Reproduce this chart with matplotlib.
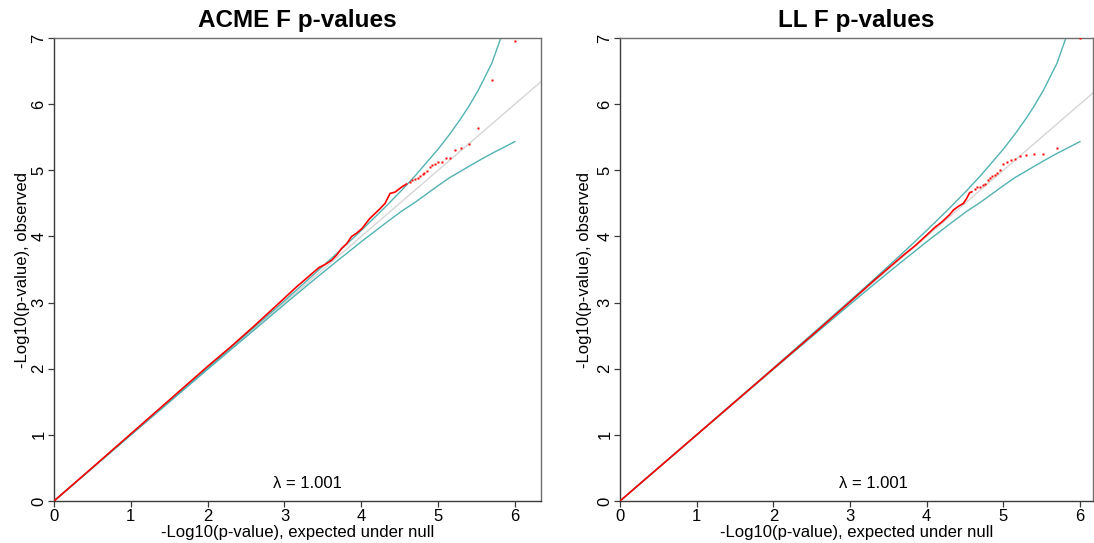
import matplotlib
matplotlib.use("Agg")
import matplotlib.pyplot as plt

plt.rcParams['font.family'] = ['Liberation Sans', 'DejaVu Sans']

# ---------------- data ----------------
titles = ["ACME F p-values", "LL F p-values"]
lambda_labels = ["\u03bb = 1.001", "\u03bb = 1.001"]
x_ticks = [0, 1, 2, 3, 4, 5, 6]
y_ticks = [0, 1, 2, 3, 4, 5, 6, 7]

# 95% confidence band of the expected order statistics
band_x = [0.0, 1.0, 2.0, 3.0, 3.301, 3.5, 3.699, 4.0, 4.301, 4.523, 4.699, 5.0, 5.155, 5.301, 5.398, 5.523, 5.699, 6.0]
band_upper = [0.0, 1.003, 2.009, 3.027, 3.340, 3.550, 3.761, 4.090, 4.431, 4.694, 4.913, 5.319, 5.551, 5.790, 5.963, 6.209, 6.616, 7.597]
band_lower = [0.0, 0.997, 1.991, 2.973, 3.264, 3.454, 3.641, 3.919, 4.188, 4.380, 4.514, 4.767, 4.892, 4.990, 5.057, 5.141, 5.254, 5.433]

# ACME panel: dense part of observed points
acme_dense_x = [0.0, 0.5, 1.0, 1.5, 2.0, 2.3, 2.6, 2.9, 3.16, 3.35, 3.45, 3.52, 3.615, 3.68, 3.745,
                3.81, 3.875, 3.94, 4.01, 4.11, 4.245, 4.31, 4.375, 4.44, 4.53, 4.60]
acme_dense_y = [0.0, 0.505, 1.015, 1.525, 2.035, 2.33, 2.64, 2.96, 3.24, 3.43, 3.53, 3.57, 3.64, 3.72, 3.82,
                3.89, 4.00, 4.05, 4.12, 4.27, 4.42, 4.50, 4.65, 4.67, 4.75, 4.80]
# ACME panel: top (sparse) observed points
acme_tail_x = [6.00, 5.70, 5.52, 5.40, 5.30, 5.22, 5.15, 5.10, 5.05, 5.00, 4.96, 4.92, 4.89, 4.85, 4.82, 4.80, 4.77, 4.74, 4.70, 4.66, 4.63]
acme_tail_y = [6.96, 6.37, 5.64, 5.40, 5.33, 5.30, 5.18, 5.18, 5.12, 5.12, 5.09, 5.08, 5.05, 4.99, 4.96, 4.94, 4.92, 4.89, 4.87, 4.85, 4.83]

# LL panel: dense part of observed points
ll_dense_x = [0.0, 0.5, 1.0, 1.5, 2.0, 2.5, 3.0, 3.3, 3.5, 3.7, 3.85, 4.0, 4.1, 4.2, 4.3, 4.35, 4.42, 4.48, 4.52, 4.56, 4.60]
ll_dense_y = [0.0, 0.50, 1.0, 1.5, 2.0, 2.5, 3.01, 3.32, 3.52, 3.72, 3.86, 4.02, 4.13, 4.22, 4.33, 4.40, 4.46, 4.50, 4.57, 4.66, 4.68]
# LL panel: top (sparse) observed points
ll_tail_x = [6.00, 5.70, 5.52, 5.40, 5.30, 5.22, 5.15, 5.10, 5.05, 5.00, 4.96, 4.92, 4.89, 4.85, 4.82, 4.80, 4.76, 4.73, 4.69, 4.66, 4.63]
ll_tail_y = [7.00, 5.33, 5.25, 5.24, 5.23, 5.22, 5.17, 5.15, 5.13, 5.09, 5.00, 4.96, 4.93, 4.91, 4.89, 4.86, 4.80, 4.78, 4.75, 4.74, 4.72]

panels = [
    (acme_dense_x, acme_dense_y, acme_tail_x, acme_tail_y),
    (ll_dense_x, ll_dense_y, ll_tail_x, ll_tail_y),
]

# ---------------- layout ----------------
W, H = 1094, 543
fig = plt.figure(figsize=(W / 100, H / 100), dpi=100)
# (left px, right px, top px, bottom px, xmax, ylabel centre px)
boxes = [(54, 541, 38, 501, 6.34, 23), (620, 1093, 38, 501, 6.17, 585)]

band_col = '#52B2B2'
spine_col = '#3A3A3A'
fs = 12

for k, (bx0, bx1, by0, by1, xmax, ylab_px) in enumerate(boxes):
    ax = fig.add_axes([bx0 / W, (H - by1) / H, (bx1 - bx0) / W, (by1 - by0) / H])
    dx, dy, tx, ty = panels[k]
    ax.set_xlim(0, xmax)
    ax.set_ylim(0, 7)
    # diagonal
    ax.axline((0, 0), slope=1, color='#D6D6D6', lw=1.0, zorder=1)
    # bands
    ax.plot(band_x, band_upper, color=band_col, lw=1.0, zorder=2)
    ax.plot(band_x, band_lower, color=band_col, lw=1.0, zorder=2)
    # observed
    ax.plot(dx, dy, color='red', lw=1.2, zorder=3, solid_capstyle='butt')
    ax.plot(tx, ty, linestyle='none', marker='s', ms=2.0, mec='none', mfc='red', zorder=3)

    ax.set_xticks(x_ticks)
    ax.set_yticks(y_ticks)
    ax.set_xticklabels([str(v) for v in x_ticks], fontsize=fs)
    ax.set_yticklabels([str(v) for v in y_ticks], fontsize=fs, rotation=90, va='center')
    ax.tick_params(axis='both', direction='out', length=4.5, width=0.9, color=spine_col)
    ax.tick_params(axis='x', pad=1.5)
    ax.tick_params(axis='y', pad=1.0)
    for s in ax.spines.values():
        s.set_color('#6E6E6E')
        s.set_linewidth(1.0)
    ax.spines['left'].set_color(spine_col)
    ax.spines['bottom'].set_color(spine_col)

    ax.set_xlabel("-Log10(p-value), expected under null", fontsize=fs, labelpad=0.5)
    ax.set_ylabel("-Log10(p-value), observed", fontsize=fs, va='center')
    ax.yaxis.set_label_coords((ylab_px - bx0) / (bx1 - bx0), 0.5)
    ax.set_title(titles[k], fontsize=17.5, fontweight='bold', pad=8)
    ax.text(3.3, 0.27, lambda_labels[k], fontsize=fs, ha='center', va='center')

fig.savefig("out.png", dpi=100)
